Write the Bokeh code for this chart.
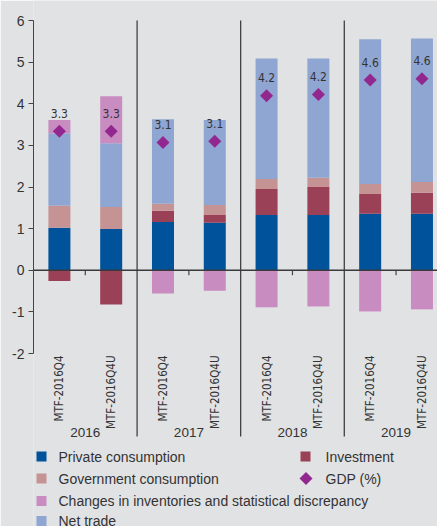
import math
from bokeh.plotting import figure
from bokeh.models import Range1d, LinearAxis, FixedTicker, Span
from bokeh.core.properties import value
from bokeh.embed import file_html
from bokeh.resources import INLINE

# ---------------- data ----------------
categories = ["MTF-2016Q4", "MTF-2016Q4U"] * 4
years = ["2016", "2017", "2018", "2019"]
private = [1.02, 0.99, 1.16, 1.14, 1.33, 1.33, 1.36, 1.36]
investment = [-0.26, -0.82, 0.27, 0.19, 0.62, 0.67, 0.47, 0.50]
government = [0.53, 0.53, 0.17, 0.24, 0.24, 0.22, 0.24, 0.26]
net_trade = [1.74, 1.53, 2.03, 2.04, 2.90, 2.87, 3.48, 3.45]
inventories = [0.32, 1.13, -0.56, -0.49, -0.89, -0.87, -0.99, -0.94]
gdp = [3.34, 3.34, 3.07, 3.10, 4.19, 4.22, 4.57, 4.60]
y_ticks = [-2, -1, 0, 1, 2, 3, 4, 5, 6]
y_tick_labels = ["-2", "-1", "0", "1", "2", "3", "4", "5", "6"]

series_names = ["Private consumption", "Investment", "Government consumption",
                "Net trade", "Changes in inventories and statistical discrepancy"]
series_values = [private, investment, government, net_trade, inventories]
series_colors = ["#00529B", "#9B4157", "#C69394", "#90A6D2", "#C98CC1"]
gdp_name = "GDP (%)"
gdp_color = "#92278F"

# ---------------- layout ----------------
W, H = 437, 526
BG = "#E1E2E4"
TXT = "#333333"
FL = 33
X0, X1 = -0.5, 7.3
Y_TOP_PX, Y_BOT_PX = 20, 353
ys = (Y_BOT_PX - Y_TOP_PX) / (max(y_ticks) - min(y_ticks))
y_end = max(y_ticks) + Y_TOP_PX / ys
y_start = min(y_ticks) - (H - Y_BOT_PX) / ys
xs = (W - FL) / (X1 - X0)


def px_x(px):
    return X0 + (px - FL) / xs


def px_y(py):
    return y_end - py / ys


COND = "DejaVu Sans Condensed"
SANS = "Liberation Sans"

p = figure(width=W, height=H, x_range=Range1d(X0, X1), y_range=Range1d(y_start, y_end),
           output_backend="svg", toolbar_location=None,
           x_axis_location=None, y_axis_location=None,
           min_border_left=FL, min_border_right=0, min_border_top=0, min_border_bottom=0)
p.background_fill_color = BG
p.border_fill_color = BG
p.outline_line_color = None
p.grid.visible = False

axis = LinearAxis(ticker=FixedTicker(ticks=y_ticks), bounds=(min(y_ticks), max(y_ticks)))
axis.major_label_overrides = {t: lab for t, lab in zip(y_ticks, y_tick_labels)}
axis.major_tick_in = 0
axis.major_tick_out = 5
axis.minor_tick_line_color = None
axis.axis_line_color = "#444444"
axis.major_tick_line_color = "#444444"
axis.major_label_text_font = SANS
axis.major_label_text_font_size = "14px"
axis.major_label_text_color = TXT
axis.major_label_standoff = 4
p.add_layout(axis, "left")

n = len(categories)
xi = list(range(n))
bar_w = 0.425

# stacked bars
pos_base = [0.0] * n
neg_base = [0.0] * n
for name, vals, col in zip(series_names, series_values, series_colors):
    bottoms, tops = [], []
    for i, v in enumerate(vals):
        if v >= 0:
            bottoms.append(pos_base[i]); tops.append(pos_base[i] + v); pos_base[i] += v
        else:
            tops.append(neg_base[i]); bottoms.append(neg_base[i] + v); neg_base[i] += v
    p.vbar(x=xi, width=bar_w, bottom=bottoms, top=tops, fill_color=col, line_color=None)

# group separators
groups = len(years)
per = n // groups
seps = [k * per - 0.5 for k in range(1, groups)]
p.segment(x0=seps, y0=[max(y_ticks)] * len(seps), x1=seps, y1=[px_y(436)] * len(seps),
          line_color="#333333", line_width=1.2)

# zero line + small ticks
p.add_layout(Span(location=0, dimension="width", line_color="#3a3a3a", line_width=1.3))
centers = [k * per + (per - 1) / 2 for k in range(groups)]
p.segment(x0=centers, y0=[0] * groups, x1=centers, y1=[-5 / ys] * groups,
          line_color="#444444", line_width=1.2)

# GDP markers and labels
p.scatter(x=xi, y=gdp, marker="square", angle=math.pi / 4, size=9.2,
          fill_color=gdp_color, line_color=None)
p.text(x=xi, y=gdp, text=["%.1f" % g for g in gdp], y_offset=-18,
       text_align="center", text_baseline="middle", text_font=value(COND),
       text_font_size="12px", text_color=TXT)

# category labels
p.text(x=xi, y=[px_y(355)] * n, text=categories, angle=math.pi / 2,
       text_align="right", text_baseline="middle", text_font=value(COND),
       text_font_size="11.5px", text_color=TXT)
p.text(x=centers, y=[px_y(432)] * groups, text=years,
       text_align="center", text_baseline="middle", text_font=value(SANS),
       text_font_size="13.5px", text_color=TXT)

# legend (manual)
rows_px = [456, 478, 500.5, 520.5]
col1 = [(series_names[0], series_colors[0]), (series_names[2], series_colors[2]),
        (series_names[4], series_colors[4]), (series_names[3], series_colors[3])]
for r, (name, col) in enumerate(col1):
    p.scatter(x=[px_x(41)], y=[px_y(rows_px[r])], marker="square", size=10,
              fill_color=col, line_color=None)
    p.text(x=[px_x(58)], y=[px_y(rows_px[r])], text=[name], text_baseline="middle",
           text_font=value(SANS), text_font_size="14px", text_color=TXT)
p.scatter(x=[px_x(305)], y=[px_y(rows_px[0])], marker="square", size=10,
          fill_color=series_colors[1], line_color=None)
p.text(x=[px_x(325)], y=[px_y(rows_px[0])], text=[series_names[1]], text_baseline="middle",
       text_font=value(SANS), text_font_size="14px", text_color=TXT)
p.scatter(x=[px_x(305.5)], y=[px_y(rows_px[1])], marker="square", angle=math.pi / 4, size=9.2,
          fill_color=gdp_color, line_color=None)
p.text(x=[px_x(325)], y=[px_y(rows_px[1])], text=[gdp_name], text_baseline="middle",
       text_font=value(SANS), text_font_size="14px", text_color=TXT)

open("out.html", "w").write(file_html(p, INLINE))
